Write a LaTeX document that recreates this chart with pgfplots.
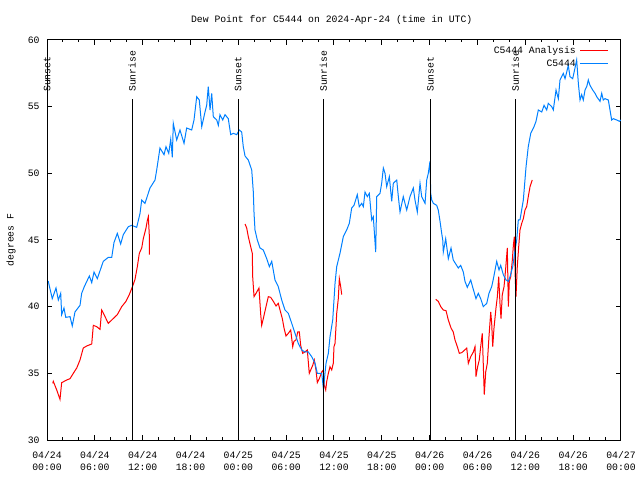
\documentclass[border=0pt]{standalone}
\usepackage{fontspec}
\setmainfont{Liberation Mono}
\usepackage{pgfplots}
\pgfplotsset{compat=1.18}
\definecolor{ublue}{RGB}{0,128,255}
\definecolor{ured}{RGB}{255,0,0}
\begin{document}
\fontsize{9.8}{12}\selectfont
\begin{tikzpicture}
\path[use as bounding box] (0bp,0bp) rectangle (640bp,480bp);
\begin{axis}[
  at={(47bp,40bp)}, anchor=south west,
  scale only axis, width=574bp, height=400bp,
  xmin=0, xmax=72, ymin=30, ymax=60,
  clip mode=individual,
  unbounded coords=jump,
  /pgf/number format/assume math mode=true,
  axis line style={line width=1bp},
  tick align=inside,
  major tick length=5bp, minor tick length=2.5bp,
  every tick/.style={black, line width=1bp},
  xtick={0,6,...,72},
  minor xtick={2,4,8,10,14,16,20,22,26,28,32,34,38,40,44,46,50,52,56,58,62,64,68,70},
  xticklabels={{04/24\\00:00},{04/24\\06:00},{04/24\\12:00},{04/24\\18:00},{04/25\\00:00},{04/25\\06:00},{04/25\\12:00},{04/25\\18:00},{04/26\\00:00},{04/26\\06:00},{04/26\\12:00},{04/26\\18:00},{04/27\\00:00}},
  xticklabel style={align=center, yshift=-8bp, font=\fontsize{9.8}{12}\selectfont},
  ytick={30,35,...,60},
  yticklabel style={xshift=-4bp, font=\fontsize{9.8}{12}\selectfont},
  legend plot pos=right,
  legend cell align=right,
  legend image code/.code={\draw[#1, line width=1bp] (0bp,0bp) -- (28bp,0bp);},
  legend style={draw=none, fill=none, at={(1,1)}, anchor=north east, xshift=-10bp, yshift=-2bp,
    font=\fontsize{9.8}{12}\selectfont, row sep=1bp, inner sep=2bp,
    nodes={inner xsep=4bp}},
]
\addplot[ured, line width=1bp, no marks] coordinates {
(0.72,34.25) (0.79,34.4) (1.22,33.75) (1.63,33.05) (1.84,34.3) (2.47,34.5) (2.89,34.6) (3.30,35.0) (3.73,35.4) (4.14,36.0) (4.55,36.9) (4.98,37.05) (5.61,37.2) (5.81,38.6) (6.23,38.5) (6.65,38.3) (6.86,39.75) (7.28,39.25) (7.69,38.75) (8.12,39.0) (8.82,39.4) (9.37,40.0) (9.91,40.4) (10.32,40.9) (10.75,41.55) (11.04,42.05) (11.33,43.0) (11.58,44.0) (11.88,44.4) (12.08,45.1) (12.42,45.9) (12.58,46.45) (12.71,46.75) (12.83,45.4) (12.84,43.9)
(18,nan)
(24.84,46.2) (25.05,45.9) (25.25,45.25) (25.55,44.5) (25.75,44.0) (25.80,42.25) (25.97,40.75) (26.22,41.0) (26.59,41.4) (26.81,39.4) (26.93,38.6) (27.13,39.1) (27.47,40.0) (27.76,40.75) (28.06,40.7) (28.39,40.4) (28.73,40.05) (29.01,40.25) (29.23,39.75) (29.52,39.1) (29.73,38.4) (29.98,37.8) (30.27,38.0) (30.57,38.25) (30.82,37.0) (30.98,37.4) (31.23,37.5) (31.45,38.1) (31.65,38.1) (31.82,37.1) (32.07,36.5) (32.36,36.6) (32.65,36.75) (32.90,35.0) (33.08,35.25) (33.33,35.6) (33.53,36.0) (33.74,35.25) (33.91,34.3) (34.16,34.6) (34.46,35.1) (34.66,35.25) (34.78,34.1) (34.96,33.75) (35.09,34.4) (35.29,35.0) (35.50,35.5) (35.71,35.25) (35.91,35.75) (36.00,37.0) (36.13,37.25) (36.25,38.5) (36.34,39.5) (36.54,40.6) (36.67,42.1) (36.84,41.5) (36.97,40.9)
(42,nan)
(48.76,40.55) (49.08,40.4) (49.39,40.0) (49.71,39.75) (50.05,39.7) (50.34,39.0) (50.68,38.4) (50.96,38.1) (51.18,37.5) (51.47,37.0) (51.72,36.5) (52.02,36.55) (52.31,36.7) (52.65,36.9) (52.85,35.75) (53.15,36.25) (53.48,36.6) (53.69,37.0) (53.81,34.75) (54.02,35.5) (54.22,36.0) (54.40,37.0) (54.60,38.0) (54.85,33.4) (55.03,35.1) (55.23,35.75) (55.44,37.75) (55.66,39.6) (55.78,38.75) (55.91,37.0) (56.07,38.4) (56.32,39.9) (56.49,40.75) (56.66,42.25) (56.82,40.25) (56.95,39.1) (57.11,40.9) (57.33,41.5) (57.54,42.9) (57.74,44.4) (57.87,40.0) (57.99,41.9) (58.17,42.25) (58.37,43.5) (58.50,44.6) (58.62,45.25) (58.74,42.1) (58.83,40.75) (58.99,43.0) (59.17,44.5) (59.33,45.75) (59.55,46.25) (59.75,46.6) (59.96,47.25) (60.17,47.5) (60.37,48.25) (60.59,49.0) (60.87,49.5)
};
\addlegendentry{C5444 Analysis}
\addplot[ublue, line width=1bp, no marks] coordinates {
(0.0,41.9) (0.16,41.9) (0.66,40.6) (1.13,41.4) (1.42,40.5) (1.72,41.0) (1.84,39.4) (2.13,39.9) (2.35,39.2) (2.89,39.25) (3.17,38.55) (3.51,39.6) (4.14,40.1) (4.35,41.0) (4.68,41.5) (5.31,42.3) (5.61,41.8) (5.90,42.6) (6.31,42.1) (7.06,43.4) (7.69,43.7) (8.12,43.7) (8.40,44.8) (8.82,45.5) (9.24,44.7) (9.57,45.4) (10.20,46.0) (10.62,46.1) (11.25,45.95) (11.67,47.0) (11.88,48.0) (12.29,47.75) (12.92,48.9) (13.55,49.5) (13.76,50.25) (14.17,51.9) (14.68,51.4) (14.93,52.0) (15.27,51.5) (15.52,52.55) (15.72,51.2) (15.84,53.75) (16.27,52.5) (16.68,53.25) (17.19,52.25) (17.52,53.4) (18.15,53.25) (18.44,54.0) (18.78,55.75) (19.10,55.5) (19.41,53.5) (19.82,54.6) (20.03,55.1) (20.23,56.5) (20.45,54.75) (20.66,56.0) (20.86,54.25) (21.29,54.0) (21.49,53.6) (21.70,54.4) (22.04,54.0) (22.33,54.4) (22.74,54.1) (23.04,52.9) (23.37,53.0) (23.80,52.9) (24.12,53.25) (24.42,53.1) (24.62,52.0) (24.84,51.3) (25.25,51.0) (25.68,50.25) (25.88,48.6) (25.97,47.0) (26.09,45.75) (26.38,45.0) (26.72,44.4) (27.13,44.25) (27.56,43.6) (27.89,43.0) (28.19,43.4) (28.60,42.0) (29.01,41.5) (29.44,40.5) (29.85,39.75) (30.27,39.5) (30.70,38.75) (31.11,38.0) (31.52,37.25) (31.95,36.75) (32.36,36.6) (32.78,36.6) (33.20,36.25) (33.62,35.75) (33.91,35.0) (34.46,35.0) (34.68,33.8) (34.87,35.0) (35.00,35.75) (35.29,36.5) (35.50,37.75) (35.84,39.0) (36.13,41.75) (36.34,43.0) (36.75,44.0) (37.17,45.25) (37.59,45.75) (37.92,46.25) (38.22,47.4) (38.51,47.6) (38.92,48.4) (39.17,47.5) (39.48,47.75) (39.68,47.5) (39.89,48.6) (40.18,48.25) (40.43,48.5) (40.73,46.5) (40.93,46.75) (41.23,44.1) (41.36,48.25) (41.77,48.5) (41.98,49.25) (42.19,50.4) (42.40,50.0) (42.61,49.0) (42.94,49.75) (43.24,47.9) (43.44,49.25) (43.87,49.5) (44.07,48.25) (44.28,47.1) (44.69,48.25) (45.12,47.25) (45.53,48.25) (45.95,48.9) (46.16,48.0) (46.45,47.1) (46.79,49.25) (47.00,48.25) (47.42,47.75) (47.63,49.5) (47.83,50.0) (48.04,50.9) (48.13,48.5) (48.26,48.0) (48.46,47.75) (48.88,47.6) (49.08,47.25) (49.30,46.4) (49.51,45.5) (49.64,45.0) (49.71,44.1) (50.01,45.1) (50.34,43.6) (50.68,44.4) (50.96,43.5) (51.59,42.9) (51.89,43.1) (52.22,42.6) (52.43,41.9) (52.72,41.45) (53.15,42.0) (53.40,41.45) (53.81,40.6) (54.10,41.0) (54.40,40.6) (54.73,40.0) (55.16,40.25) (55.44,41.0) (55.78,41.5) (55.98,42.05) (56.41,43.4) (56.70,42.75) (56.91,43.1) (57.24,42.4) (57.58,42.0) (57.87,41.9) (58.08,42.25) (58.42,43.0) (58.71,44.25) (58.92,45.0) (59.12,46.5) (59.33,46.5) (59.75,48.0) (60.09,50.5) (60.37,52.0) (60.68,53.0) (61.09,53.5) (61.34,53.9) (61.63,54.75) (62.06,54.6) (62.35,55.1) (62.68,54.75) (62.88,55.25) (63.31,55.0) (63.51,54.75) (63.85,56.25) (64.14,55.6) (64.35,57.0) (64.76,57.5) (64.98,57.1) (65.19,57.6) (65.39,58.1) (65.60,57.25) (65.94,57.1) (66.23,57.9) (66.44,58.5) (66.65,56.75) (66.86,55.5) (67.07,55.9) (67.27,55.5) (67.49,56.25) (67.70,56.5) (67.90,57.0) (68.11,56.6) (68.45,56.25) (68.74,56.0) (68.95,55.75) (69.37,55.4) (69.58,56.0) (69.78,55.5) (69.99,55.6) (70.41,55.5) (70.62,54.75) (70.83,54.0) (71.04,54.1) (71.46,54.0) (71.79,53.9) (72.0,54.0)
};
\addlegendentry{C5444}
% sunrise / sunset markers
\addplot[black, line width=1bp, no marks, forget plot] coordinates {(0.02,30) (0.02,55.6)};
\addplot[black, line width=1bp, no marks, forget plot] coordinates {(10.68,30) (10.68,55.6)};
\addplot[black, line width=1bp, no marks, forget plot] coordinates {(23.98,30) (23.98,55.6)};
\addplot[black, line width=1bp, no marks, forget plot] coordinates {(34.66,30) (34.66,55.6)};
\addplot[black, line width=1bp, no marks, forget plot] coordinates {(48.10,30) (48.10,55.6)};
\addplot[black, line width=1bp, no marks, forget plot] coordinates {(58.76,30) (58.76,55.6)};
\node[rotate=90, anchor=west, inner sep=0pt] at (axis cs:0.02,56.1) {Sunset};
\node[rotate=90, anchor=west, inner sep=0pt] at (axis cs:10.68,56.1) {Sunrise};
\node[rotate=90, anchor=west, inner sep=0pt] at (axis cs:23.98,56.1) {Sunset};
\node[rotate=90, anchor=west, inner sep=0pt] at (axis cs:34.66,56.1) {Sunrise};
\node[rotate=90, anchor=west, inner sep=0pt] at (axis cs:48.10,56.1) {Sunset};
\node[rotate=90, anchor=west, inner sep=0pt] at (axis cs:58.76,56.1) {Sunrise};
\end{axis}
\node at (331.7bp,460bp) {Dew Point for C5444 on 2024-Apr-24 (time in UTC)};
\node[rotate=90] at (11bp,240bp) {degrees F};
\end{tikzpicture}
\end{document}
